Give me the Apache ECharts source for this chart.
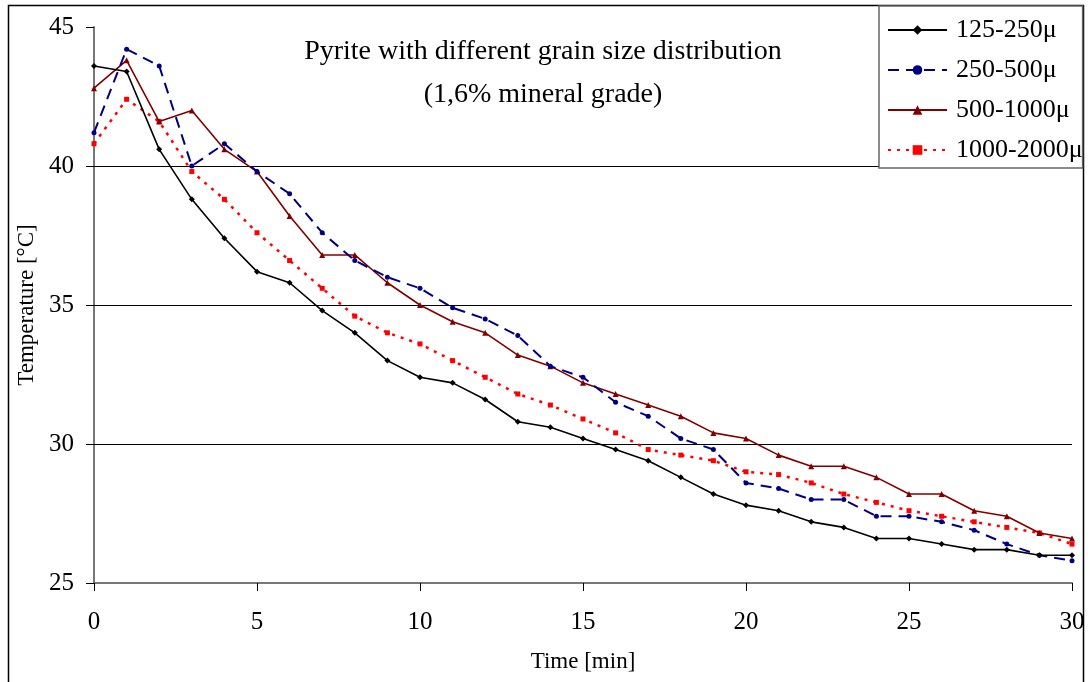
<!DOCTYPE html>
<html>
<head>
<meta charset="utf-8">
<script src="https://cdn.jsdelivr.net/npm/echarts@6/dist/echarts.min.js"></script>
<style>html,body{margin:0;padding:0;background:#fff}#c{width:1090px;height:682px}</style>
</head>
<body>
<div id="c"></div>
<script>
const times = [0,1,2,3,4,5,6,7,8,9,10,11,12,13,14,15,16,17,18,19,20,21,22,23,24,25,26,27,28,29,30];
const seriesNames = ['125-250μ','250-500μ','500-1000μ','1000-2000μ'];
const s125 = [43.6,43.4,40.6,38.8,37.4,36.2,35.8,34.8,34.0,33.0,32.4,32.2,31.6,30.8,30.6,30.2,29.8,29.4,28.8,28.2,27.8,27.6,27.2,27.0,26.6,26.6,26.4,26.2,26.2,26.0,26.0];
const s250 = [41.2,44.2,43.6,40.0,40.8,39.8,39.0,37.6,36.6,36.0,35.6,34.9,34.5,33.9,32.8,32.4,31.5,31.0,30.2,29.8,28.6,28.4,28.0,28.0,27.4,27.4,27.2,26.9,26.4,26.0,25.8];
const s500 = [42.8,43.8,41.6,42.0,40.6,39.8,38.2,36.8,36.8,35.8,35.0,34.4,34.0,33.2,32.8,32.2,31.8,31.4,31.0,30.4,30.2,29.6,29.2,29.2,28.8,28.2,28.2,27.6,27.4,26.8,26.6];
const s1000 = [40.8,42.4,41.6,39.8,38.8,37.6,36.6,35.6,34.6,34.0,33.6,33.0,32.4,31.8,31.4,30.9,30.4,29.8,29.6,29.4,29.0,28.9,28.6,28.2,27.9,27.6,27.4,27.2,27.0,26.8,26.4];
const yTicks = [25,30,35,40,45];
const xTicks = [0,5,10,15,20,25,30];
const gridValues = [30,35,40];
const titleLines = ['Pyrite with different grain size distribution','(1,6% mineral grade)'];

const serif = 'Liberation Serif';
const pair = arr => arr.map((v,i)=>[times[i],v]);
const chart = echarts.init(document.getElementById('c'), null, {renderer:'canvas'});
chart.setOption({
  animation:false,
  backgroundColor:'#fff',
  title:{text:titleLines.join('\n'), left:538, top:25, textAlign:'center',
    textStyle:{fontFamily:serif,fontSize:28,fontWeight:'normal',color:'#000',lineHeight:43}},
  grid:{left:94,right:18,top:27,bottom:99},
  legend:{orient:'vertical',left:879,top:6,padding:[11,0,5,8],itemGap:14,itemWidth:59,itemHeight:12,
    backgroundColor:'#fff',borderColor:'#666',borderWidth:1.5,borderRadius:0,
    textStyle:{fontFamily:serif,fontSize:26,color:'#000',padding:[0,0,0,4]},data:seriesNames},
  xAxis:{type:'value',min:0,max:30,interval:5,name:'Time [min]',nameLocation:'middle',nameGap:67,
    nameTextStyle:{fontFamily:serif,fontSize:23,color:'#000'},
    axisLine:{show:true,lineStyle:{color:'#777',width:2}},
    axisTick:{show:true,length:8,lineStyle:{color:'#000',width:1}},
    axisLabel:{fontFamily:serif,fontSize:25,color:'#000',margin:27},
    splitLine:{show:false}},
  yAxis:{type:'value',min:25,max:45,interval:5,name:'Temperature [°C]',nameLocation:'middle',nameGap:42,
    nameTextStyle:{fontFamily:serif,fontSize:23,color:'#000'},
    axisLine:{show:true,lineStyle:{color:'#777',width:2}},
    axisTick:{show:true,length:8,lineStyle:{color:'#000',width:1}},
    axisLabel:{fontFamily:serif,fontSize:25,color:'#000',margin:20},
    splitLine:{show:false}},
  graphic:[{type:'rect',shape:{x:8.5,y:5.5,width:1075,height:690},style:{fill:'none',stroke:'#000',lineWidth:1.5},silent:true,z:-1}],
  series:[
    {name:seriesNames[0],type:'line',data:pair(s125),symbol:'diamond',symbolSize:6,z:5,
      lineStyle:{color:'#000',width:1.6},itemStyle:{color:'#000'},
      markLine:{silent:true,symbol:'none',label:{show:false},animation:false,z:1,
        lineStyle:{color:'#000',width:1,type:'solid'},
        data:gridValues.map(v=>({yAxis:v}))}},
    {name:seriesNames[1],type:'line',data:pair(s250),symbol:'circle',symbolSize:5,z:4,
      lineStyle:{color:'#000080',width:2,type:[11,7]},itemStyle:{color:'#000080'}},
    {name:seriesNames[2],type:'line',data:pair(s500),symbol:'triangle',symbolSize:6,z:3,
      lineStyle:{color:'#800000',width:1.6},itemStyle:{color:'#800000'}},
    {name:seriesNames[3],type:'line',data:pair(s1000),symbol:'rect',symbolSize:5,z:2,
      lineStyle:{color:'#ff0000',width:2.5,type:[3,6]},itemStyle:{color:'#ff0000'}}
  ]
});
</script>
</body>
</html>
